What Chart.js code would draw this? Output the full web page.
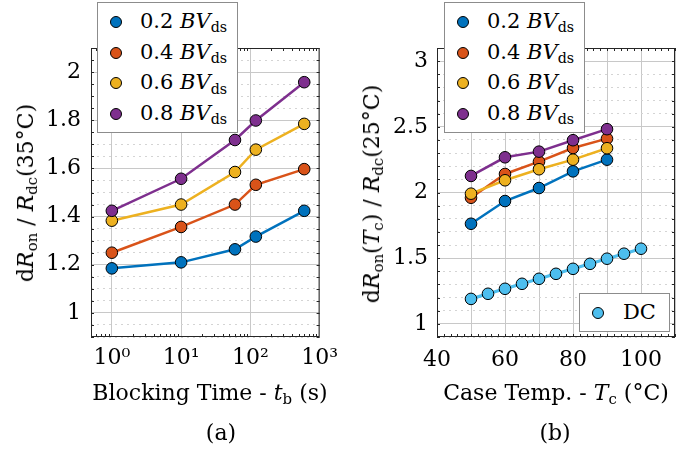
<!DOCTYPE html>
<html>
<head>
<meta charset="utf-8">
<script src="https://cdn.jsdelivr.net/npm/chart.js@4.4.0/dist/chart.umd.min.js"></script>
<style>
  body { margin: 0; background: #fff; }
  #wrap { position: relative; width: 692px; height: 450px; overflow: hidden; font-family: "DejaVu Serif", serif; color: #000; }
  canvas { position: absolute; top: 0; }
  .lbl { position: absolute; white-space: nowrap; font-size: 22px; line-height: 1; }
  .rot { transform: translate(-50%, -50%) rotate(-90deg); }
  .ctr { transform: translate(-50%, -50%); }
  .sub { font-size: 0.68em; position: relative; top: 0.3em; }
  .it { font-style: italic; }
  .legend { position: absolute; background: #fff; border: 1px solid #8c8c8c; box-sizing: border-box; }
  .row { position: absolute; white-space: nowrap; font-size: 21px; line-height: 1; }
  .dot { position: absolute; width: 12px; height: 12px; border-radius: 50%; border: 1px solid #000; box-sizing: border-box; }
</style>
</head>
<body>
<div id="wrap">
  <canvas id="chartA" width="346" height="450" style="left:0"></canvas>
  <canvas id="chartB" width="346" height="450" style="left:346px"></canvas>

  <!-- axis titles -->
  <div class="lbl rot" style="left:26px; top:193px;">d<span class="it">R</span><span class="sub">on</span> / <span class="it">R</span><span class="sub">dc</span>(35°C)</div>
  <div class="lbl ctr" style="left:210px; top:393px;">Blocking Time - <span class="it">t</span><span class="sub">b</span> (s)</div>
  <div class="lbl ctr" style="left:221px; top:433px;">(a)</div>

  <div class="lbl rot" style="left:372px; top:194px;">d<span class="it">R</span><span class="sub">on</span>(<span class="it">T</span><span class="sub">c</span>) / <span class="it">R</span><span class="sub">dc</span>(25°C)</div>
  <div class="lbl ctr" style="left:556px; top:393px;">Case Temp. - <span class="it">T</span><span class="sub">c</span> (°C)</div>
  <div class="lbl ctr" style="left:555px; top:433px;">(b)</div>

  <div id="legA" class="legend" style="left:97px; top:2px; width:141px; height:131px;"></div>
  <div id="legB" class="legend" style="left:444px; top:2px; width:141px; height:131px;"></div>
  <div id="legDC" class="legend" style="left:579px; top:293px; width:91px; height:39px;"></div>
</div>

<script>
// ---- (a) blocking time ----
var blockTime = [1, 10, 60, 120, 600];
var bv02A = [1.185, 1.21, 1.264, 1.317, 1.424];
var bv04A = [1.25, 1.357, 1.45, 1.532, 1.597];
var bv06A = [1.383, 1.45, 1.585, 1.678, 1.785];
var bv08A = [1.424, 1.557, 1.718, 1.799, 1.958];

// ---- (b) case temperature ----
var caseTemp = [50, 60, 70, 80, 90];
var bv02B = [1.762, 1.935, 2.034, 2.161, 2.25];
var bv04B = [1.96, 2.141, 2.235, 2.339, 2.41];
var bv06B = [1.991, 2.093, 2.177, 2.25, 2.337];
var bv08B = [2.126, 2.268, 2.311, 2.398, 2.482];
var dcTemp = [50, 55, 60, 65, 70, 75, 80, 85, 90, 95, 100];
var dcB = [1.19, 1.229, 1.267, 1.305, 1.343, 1.381, 1.419, 1.457, 1.496, 1.534, 1.572];

var seriesNames = ['0.2', '0.4', '0.6', '0.8'];
var seriesColors = ['#0072BD', '#D95319', '#EDB120', '#7E2F8E'];
var dcColor = '#4DBEEE';

// tick labels
var xDecadesA = [1, 10, 100, 1000];
var xSupA = ['10⁰', '10¹', '10²', '10³'];
var yLabelsA = [1, 1.2, 1.4, 1.6, 1.8, 2];
var xLabelsB = [40, 60, 80, 100];
var yLabelsB = [1, 1.5, 2, 2.5, 3];

function range(a, b, step) {
  var out = [];
  var n = Math.round((b - a) / step);
  for (var i = 0; i <= n; i++) out.push(Math.round((a + i * step) * 1000) / 1000);
  return out;
}
var yGridA = range(0.9, 2.1, 0.05);
var yGridB = range(0.9, 3.1, 0.1);
var xGridB = range(40, 110, 10);
var xMinorB = range(40, 110, 2);
var xMinorA = [];
[0.1, 1, 10, 100].forEach(function (d) {
  for (var k = 2; k <= 9; k++) { var v = d * k; if (v >= 0.5 && v < 1000) xMinorA.push(v); }
});

function pts(xs, ys) {
  return xs.map(function (x, i) { return { x: x, y: ys[i] }; });
}
function ds(label, xs, ys, color, order, width) {
  return {
    label: label, data: pts(xs, ys), order: order,
    borderColor: color, backgroundColor: color, borderWidth: width || 2.5,
    pointRadius: 5.8, pointHoverRadius: 5.8, pointBorderColor: '#000', pointBorderWidth: 1,
    pointBackgroundColor: color, tension: 0, clip: false
  };
}
function has(arr, v) {
  for (var i = 0; i < arr.length; i++) if (Math.abs(arr[i] - v) < 1e-6) return true;
  return false;
}

var tickFont = { family: 'DejaVu Serif', size: 22 };

var boxPlugin = {
  id: 'boxTicks',
  afterDraw: function (chart, args, opts) {
    var ctx = chart.ctx, a = chart.chartArea;
    var xs = chart.scales.x, ys = chart.scales.y;
    ctx.save();
    ctx.strokeStyle = '#262626';
    ctx.lineWidth = 1;
    ctx.beginPath();
    opts.xMinor.forEach(function (v) {
      var px = Math.round(xs.getPixelForValue(v)) + 0.5;
      ctx.moveTo(px, a.bottom); ctx.lineTo(px, a.bottom - 3);
      ctx.moveTo(px, a.top); ctx.lineTo(px, a.top + 3);
    });
    opts.yMinor.forEach(function (v) {
      var py = Math.round(ys.getPixelForValue(v)) + 0.5;
      ctx.moveTo(a.left, py); ctx.lineTo(a.left + 3, py);
      ctx.moveTo(a.right, py); ctx.lineTo(a.right - 3, py);
    });
    ctx.stroke();
    ctx.strokeRect(a.left + 0.5, a.top + 0.5, a.right - a.left - 1, a.bottom - a.top - 1);
    ctx.restore();
  }
};

function fixedTicks(list) {
  return function (scale) { scale.ticks = list.map(function (v) { return { value: v }; }); };
}

// ---- chart (a) ----
new Chart(document.getElementById('chartA'), {
  type: 'line',
  data: {
    datasets: [
      ds('0.2', blockTime, bv02A, seriesColors[0], 4),
      ds('0.4', blockTime, bv04A, seriesColors[1], 3),
      ds('0.6', blockTime, bv06A, seriesColors[2], 2),
      ds('0.8', blockTime, bv08A, seriesColors[3], 1)
    ]
  },
  options: {
    responsive: false, animation: false, devicePixelRatio: 1,
    layout: { padding: { top: 48, right: 18, left: 0, bottom: 0 } },
    plugins: { legend: { display: false }, tooltip: { enabled: false },
      boxTicks: { xMinor: xMinorA, yMinor: yGridA } },
    scales: {
      x: {
        type: 'logarithmic', min: 0.5, max: 1000,
        afterBuildTicks: fixedTicks(xDecadesA),
        afterFit: function (s) { s.height = 113; },
        grid: { drawTicks: false, color: '#c8c8c8', lineWidth: 1 },
        border: { display: false },
        ticks: { autoSkip: false, maxRotation: 0, padding: 8, color: '#000', font: tickFont,
          callback: function (v) { var i = xDecadesA.indexOf(v); return i >= 0 ? xSupA[i] : ''; } }
      },
      y: {
        min: 0.9, max: 2.1,
        afterBuildTicks: fixedTicks(yGridA),
        afterFit: function (s) { s.width = 91; },
        grid: { drawTicks: false, lineWidth: 1,
          color: function (c) { return c.tick && has(yLabelsA, c.tick.value) ? '#c8c8c8' : '#d4d4d4'; } },
        border: { display: false,
          dash: function (c) { return c.tick && has(yLabelsA, c.tick.value) ? [] : [2, 4]; } },
        ticks: { autoSkip: false, padding: 10, color: '#000', font: tickFont,
          callback: function (v) { return has(yLabelsA, v) ? String(+v.toFixed(2)) : ''; } }
      }
    }
  },
  plugins: [boxPlugin]
});

// ---- chart (b) ----
var dsB = [
  ds('0.2', caseTemp, bv02B, seriesColors[0], 5),
  ds('0.4', caseTemp, bv04B, seriesColors[1], 4),
  ds('0.6', caseTemp, bv06B, seriesColors[2], 3),
  ds('0.8', caseTemp, bv08B, seriesColors[3], 2),
  ds('DC', dcTemp, dcB, dcColor, 1, 3.2)
];
new Chart(document.getElementById('chartB'), {
  type: 'line',
  data: { datasets: dsB },
  options: {
    responsive: false, animation: false, devicePixelRatio: 1,
    layout: { padding: { top: 48, right: 17, left: 0, bottom: 0 } },
    plugins: { legend: { display: false }, tooltip: { enabled: false },
      boxTicks: { xMinor: xMinorB, yMinor: yGridB } },
    scales: {
      x: {
        type: 'linear', min: 40, max: 110,
        afterBuildTicks: fixedTicks(xGridB),
        afterFit: function (s) { s.height = 113; },
        grid: { drawTicks: false, color: '#c8c8c8', lineWidth: 1 },
        border: { display: false },
        ticks: { autoSkip: false, maxRotation: 0, padding: 10, color: '#000', font: tickFont,
          callback: function (v) { return has(xLabelsB, v) ? String(v) : ''; } }
      },
      y: {
        min: 0.9, max: 3.1,
        afterBuildTicks: fixedTicks(yGridB),
        afterFit: function (s) { s.width = 91; },
        grid: { drawTicks: false, lineWidth: 1,
          color: function (c) { return c.tick && has(yLabelsB, c.tick.value) ? '#c8c8c8' : '#d4d4d4'; } },
        border: { display: false,
          dash: function (c) { return c.tick && has(yLabelsB, c.tick.value) ? [] : [2, 4]; } },
        ticks: { autoSkip: false, padding: 9, color: '#000', font: tickFont,
          callback: function (v) { return has(yLabelsB, v) ? String(+v.toFixed(1)) : ''; } }
      }
    }
  },
  plugins: [boxPlugin]
});

// ---- legends (html, real text) ----
function fillLegend(id) {
  var box = document.getElementById(id);
  seriesNames.forEach(function (n, i) {
    var dot = document.createElement('div');
    dot.className = 'dot';
    dot.style.left = '12px';
    dot.style.top = (13 + i * 30.7) + 'px';
    dot.style.background = seriesColors[i];
    box.appendChild(dot);
    var row = document.createElement('div');
    row.className = 'row';
    row.style.left = '42px';
    row.style.top = (8 + i * 30.7) + 'px';
    row.innerHTML = n + ' <span class="it">BV</span><span class="sub">ds</span>';
    box.appendChild(row);
  });
}
fillLegend('legA');
fillLegend('legB');
(function () {
  var box = document.getElementById('legDC');
  var dot = document.createElement('div');
  dot.className = 'dot';
  dot.style.left = '12px'; dot.style.top = '13px';
  dot.style.background = dcColor;
  box.appendChild(dot);
  var row = document.createElement('div');
  row.className = 'row';
  row.style.left = '43px'; row.style.top = '8px';
  row.textContent = 'DC';
  box.appendChild(row);
})();
</script>
</body>
</html>
